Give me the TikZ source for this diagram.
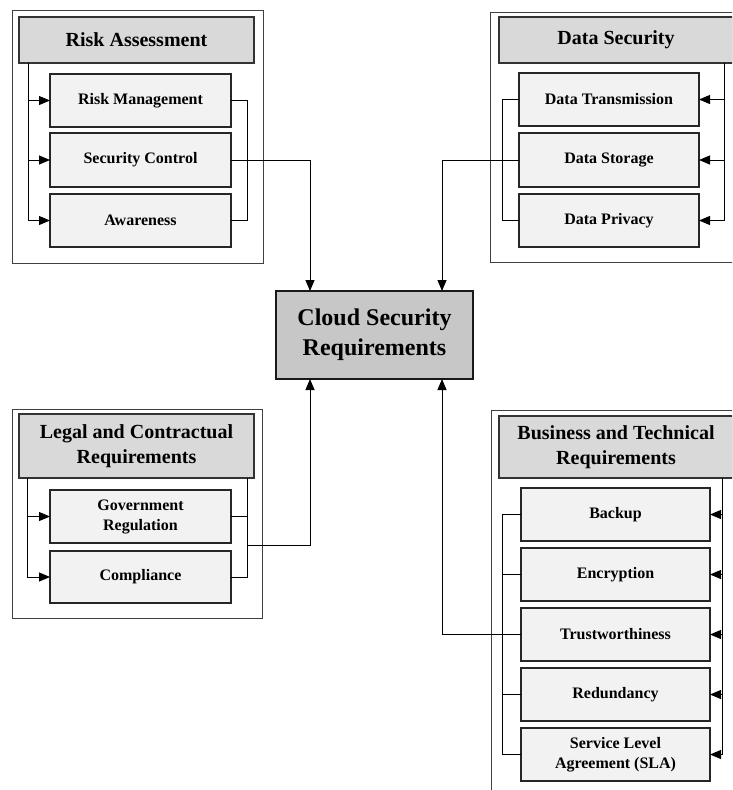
\documentclass[tikz,border=0pt]{standalone}
\usepackage{fontspec}
\setmainfont{Liberation Serif}
\usetikzlibrary{arrows.meta}
\begin{document}
\begin{tikzpicture}[x=1pt,y=-1pt,
 frame/.style={draw=black!75, line width=1pt, fill=white, inner sep=0pt, outer sep=0pt},
 header/.style={draw=black!80, line width=1.2pt, fill=black!15, font=\bfseries\fontsize{20}{25}\selectfont, align=center, inner sep=0pt, outer sep=0pt},
 item/.style={draw=black!85, line width=1.2pt, fill=black!5, font=\bfseries\fontsize{16}{20}\selectfont, align=center, inner sep=0pt, outer sep=0pt},
 core/.style={draw=black!90, line width=1.3pt, fill=black!22, font=\bfseries\fontsize{24}{30}\selectfont, align=center, inner sep=0pt, outer sep=0pt},
 wire/.style={draw=black, line width=1pt},
 arr/.style={wire, -{Triangle[length=11pt,width=9pt]}},
]
\useasboundingbox (0,0) rectangle (732,790);
\clip (0,0) rectangle (732,790);
\fill[white] (0,0) rectangle (732,790);

% frames
\node[frame, minimum width=251pt, minimum height=253pt] (raf) at (137.5,136.5) {};
\node[frame, minimum width=255pt, minimum height=250pt] (dsf) at (617.5,137) {};
\node[frame, minimum width=250pt, minimum height=209pt] (lgf) at (137,513.5) {};
\node[frame, minimum width=254pt, minimum height=390pt] (btf) at (618,605) {};

% headers
\node[header, minimum width=235pt, minimum height=46pt] (rah) at (136.5,40) {Risk Assessment};
\node[header, minimum width=234pt, minimum height=46pt] (dsh) at (616,40) {Data Security};
\node[header, minimum width=235pt, minimum height=64pt] (lh) at (136.5,446) {Legal and Contractual\\Requirements};
\node[header, minimum width=234pt, minimum height=62pt] (bh) at (616,447) {Business and Technical\\Requirements};

% core
\node[core, minimum width=197pt, minimum height=88pt] (cloud) at (374.5,335) {Cloud Security\\Requirements};

% risk assessment items
\node[item, minimum width=181pt, minimum height=53pt] (rm) at (140.5,100.5) {Risk Management};
\node[item, minimum width=181pt, minimum height=54pt] (sc) at (140.5,160) {Security Control};
\node[item, minimum width=181pt, minimum height=53pt] (aw) at (140.5,220.5) {Awareness};

% data security items
\node[item, minimum width=180pt, minimum height=53pt] (dt) at (609,99.5) {Data Transmission};
\node[item, minimum width=180pt, minimum height=54pt] (dst) at (609,160) {Data Storage};
\node[item, minimum width=180pt, minimum height=53pt] (dp) at (609,220.5) {Data Privacy};

% legal items
\node[item, minimum width=181pt, minimum height=53pt] (gr) at (140.5,516.5) {Government\\Regulation};
\node[item, minimum width=181pt, minimum height=52pt] (co) at (140.5,577) {Compliance};

% business items
\node[item, minimum width=189pt, minimum height=53pt] (bk) at (615.5,514.5) {Backup};
\node[item, minimum width=189pt, minimum height=53pt] (en) at (615.5,574.5) {Encryption};
\node[item, minimum width=189pt, minimum height=53pt] (tr) at (615.5,634.5) {Trustworthiness};
\node[item, minimum width=189pt, minimum height=53pt] (rd) at (615.5,694.5) {Redundancy};
\node[item, minimum width=189pt, minimum height=53pt] (sla) at (615.5,754.5) {Service Level\\Agreement (SLA)};

% bus coordinates
\coordinate (ral) at (28,0);
\coordinate (rar) at (247,0);
\coordinate (cl) at (310,0);
\coordinate (cr) at (442,0);
\coordinate (dsr) at (724,0);
\coordinate (dsl) at (502,0);
\coordinate (lgl) at (27,0);
\coordinate (lgr) at (247,0);
\coordinate (lout) at (247,545);
\coordinate (btr) at (722,0);
\coordinate (btl) at (502,0);

% risk assessment wiring
\draw[arr] (rah.south -| ral) |- (aw.west);
\draw[arr] (ral |- rm.west) -- (rm.west);
\draw[arr] (ral |- sc.west) -- (sc.west);
\draw[wire] (rm.east) -| (rar |- aw.east) -- (aw.east);
\draw[arr] (sc.east) -| (cl |- cloud.north);

% data security wiring
\draw[wire] (dsh.south -| dsr) -- (dsr |- dp.east);
\draw[arr] (dsr |- dt.east) -- (dt.east);
\draw[arr] (dsr |- dst.east) -- (dst.east);
\draw[arr] (dsr |- dp.east) -- (dp.east);
\draw[wire] (dt.west) -| (dsl |- dp.west) -- (dp.west);
\draw[arr] (dst.west) -| (cr |- cloud.north);

% legal wiring
\draw[arr] (lh.south -| lgl) |- (co.west);
\draw[arr] (lgl |- gr.west) -- (gr.west);
\draw[wire] (lh.south -| lgr) -- (lgr |- co.east) -- (co.east);
\draw[wire] (gr.east) -- (lgr |- gr.east);
\draw[arr] (lout) -| (cl |- cloud.south);

% business wiring
\draw[wire] (bh.south -| btr) -- (btr |- sla.east);
\draw[arr] (btr |- bk.east) -- (bk.east);
\draw[arr] (btr |- en.east) -- (en.east);
\draw[arr] (btr |- tr.east) -- (tr.east);
\draw[arr] (btr |- rd.east) -- (rd.east);
\draw[arr] (btr |- sla.east) -- (sla.east);
\draw[wire] (bk.west) -| (btl |- sla.west) -- (sla.west);
\draw[wire] (en.west) -- (btl |- en.west);
\draw[wire] (rd.west) -- (btl |- rd.west);
\draw[arr] (tr.west) -| (cr |- cloud.south);
\end{tikzpicture}
\end{document}
